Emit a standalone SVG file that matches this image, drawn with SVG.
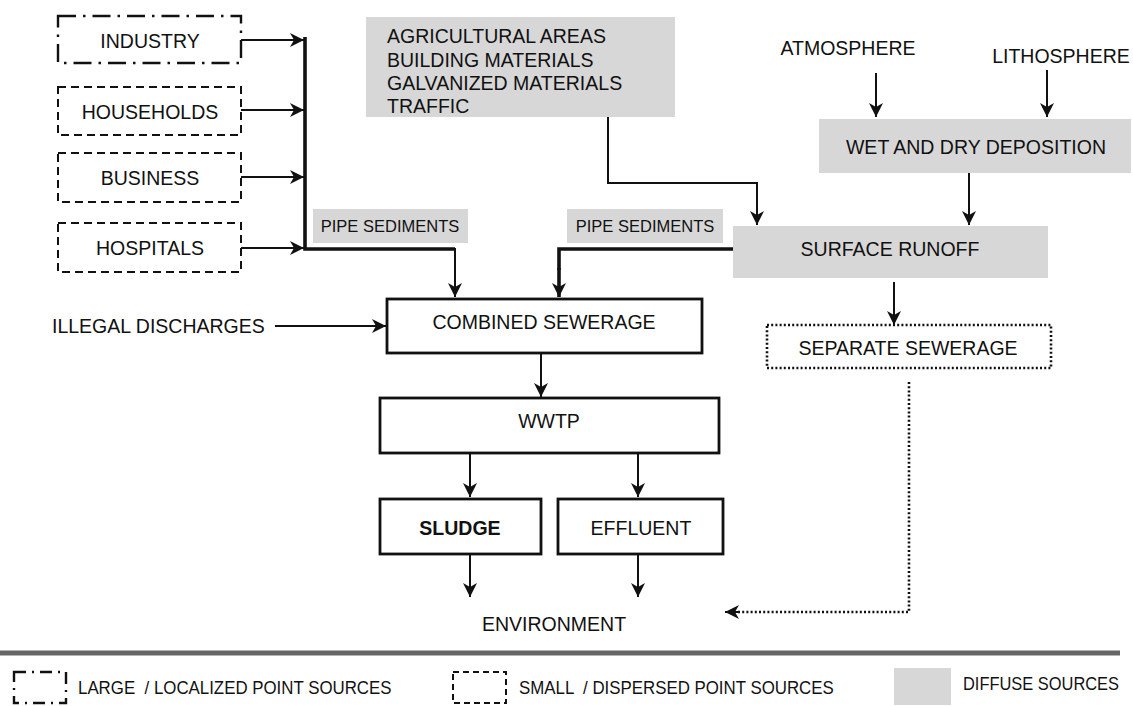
<svg xmlns="http://www.w3.org/2000/svg" width="1133" height="706" viewBox="0 0 1133 706">
<style>
text{font-family:"Liberation Sans",Arial,sans-serif;fill:#111;}
.t{font-size:19.5px;}
.c{text-anchor:middle;}
.s{font-size:16.5px;}
.lg{font-size:19px;}
.box{fill:#fff;stroke:#111;stroke-width:2.8;}
.dd{fill:#fff;stroke:#111;stroke-width:2.4;stroke-dasharray:18 7 2.5 7;}
.da{fill:#fff;stroke:#111;stroke-width:2;stroke-dasharray:8 5;}
.dot{fill:#fff;stroke:#111;stroke-width:2.6;stroke-dasharray:2 2.2;}
.gray{fill:#d7d7d7;}
.ln{fill:none;stroke:#111;stroke-width:2;}
.thick{fill:none;stroke:#111;stroke-width:3.6;}
.dl{fill:none;stroke:#111;stroke-width:2.6;stroke-dasharray:2 2.2;}
</style>
<defs>
<marker id="ah" markerUnits="userSpaceOnUse" markerWidth="14" markerHeight="14" refX="14" refY="7" orient="auto">
<path d="M0,0 L14,7 L0,14 L4,7 Z" fill="#111"/>
</marker>
</defs>

<g id="industry"><rect class="dd" x="58" y="16" width="183" height="47"/><text class="t c" x="150" y="48">INDUSTRY</text></g>
<g id="households"><rect class="da" x="58" y="87" width="183" height="48"/><text class="t c" x="150" y="119">HOUSEHOLDS</text></g>
<g id="business"><rect class="da" x="58" y="153" width="183" height="49"/><text class="t c" x="150" y="185">BUSINESS</text></g>
<g id="hospitals"><rect class="da" x="58" y="223" width="183" height="49"/><text class="t c" x="150" y="255">HOSPITALS</text></g>

<g id="diffuse-list"><rect class="gray" x="366" y="17" width="309" height="100"/>
<text class="t" x="387" y="43">AGRICULTURAL AREAS</text>
<text class="t" x="387" y="67">BUILDING MATERIALS</text>
<text class="t" x="387" y="90">GALVANIZED MATERIALS</text>
<text class="t" x="387" y="113">TRAFFIC</text></g>

<g id="atmosphere"><text class="t c" x="848" y="55">ATMOSPHERE</text></g>
<g id="lithosphere"><text class="t c" x="1061" y="63">LITHOSPHERE</text></g>
<g id="deposition"><rect class="gray" x="819" y="119" width="312" height="54"/><text class="t c" x="976" y="154">WET AND DRY DEPOSITION</text></g>
<g id="runoff"><rect class="gray" x="733" y="226" width="315" height="52"/><text class="t c" x="890" y="256">SURFACE RUNOFF</text></g>

<g id="pipe1"><rect class="gray" x="313" y="209" width="155" height="34"/><text class="s c" x="390" y="232">PIPE SEDIMENTS</text></g>
<g id="pipe2"><rect class="gray" x="567" y="209" width="156" height="34"/><text class="s c" x="645" y="232">PIPE SEDIMENTS</text></g>

<g id="illegal"><text class="t" x="52" y="333">ILLEGAL DISCHARGES</text></g>
<g id="combined"><rect class="box" x="387" y="299" width="315" height="54"/><text class="t c" x="544" y="329">COMBINED SEWERAGE</text></g>
<g id="separate"><rect class="dot" x="767" y="325" width="284" height="43"/><text class="t c" x="908" y="355">SEPARATE SEWERAGE</text></g>
<g id="wwtp"><rect class="box" x="380" y="398" width="339" height="55"/><text class="t c" x="549" y="428">WWTP</text></g>
<g id="sludge"><rect class="box" x="380" y="499" width="161" height="55"/><text class="t c" x="460" y="535" font-weight="bold">SLUDGE</text></g>
<g id="effluent"><rect class="box" x="558" y="499" width="165" height="55"/><text class="t c" x="641" y="535">EFFLUENT</text></g>
<g id="environment"><text class="t c" x="554" y="631">ENVIRONMENT</text></g>

<g id="connectors">
<line class="ln" x1="241" y1="40" x2="304" y2="40" marker-end="url(#ah)"/>
<line class="ln" x1="241" y1="110" x2="304" y2="110" marker-end="url(#ah)"/>
<line class="ln" x1="241" y1="177" x2="304" y2="177" marker-end="url(#ah)"/>
<line class="ln" x1="241" y1="248" x2="304" y2="248" marker-end="url(#ah)"/>
<polyline class="thick" points="305,37 305,249 455,249"/>
<line class="ln" x1="455" y1="248" x2="455" y2="297" marker-end="url(#ah)"/>
<polyline class="thick" points="733,249 559,249 559,270"/>
<line class="thick" x1="559" y1="268" x2="559" y2="297" marker-end="url(#ah)"/>
<polyline class="ln" points="608,117 608,183 757,183 757,225" marker-end="url(#ah)"/>
<line class="ln" x1="876" y1="73" x2="876" y2="117" marker-end="url(#ah)"/>
<line class="ln" x1="1047" y1="70" x2="1047" y2="117" marker-end="url(#ah)"/>
<line class="ln" x1="969" y1="173" x2="969" y2="225" marker-end="url(#ah)"/>
<line class="ln" x1="894" y1="282" x2="894" y2="325" marker-end="url(#ah)"/>
<line class="ln" x1="275" y1="326" x2="386" y2="326" marker-end="url(#ah)"/>
<line class="ln" x1="541" y1="353" x2="541" y2="397" marker-end="url(#ah)"/>
<line class="ln" x1="470" y1="453" x2="470" y2="497" marker-end="url(#ah)"/>
<line class="ln" x1="638" y1="453" x2="638" y2="497" marker-end="url(#ah)"/>
<line class="ln" x1="470" y1="554" x2="470" y2="597" marker-end="url(#ah)"/>
<line class="ln" x1="638" y1="554" x2="638" y2="597" marker-end="url(#ah)"/>
<polyline class="dl" points="909,382 909,612 738,612"/>
<line class="ln" x1="740" y1="612" x2="725" y2="612" marker-end="url(#ah)"/>
</g>

<g id="legend">
<line x1="0" y1="653" x2="1120" y2="653" stroke="#666" stroke-width="5"/>
<rect class="dd" x="14" y="672" width="52" height="31" style="stroke-dasharray:12 6 2 6"/>
<text class="lg" transform="translate(78,694) scale(0.888,1)" xml:space="preserve">LARGE  / LOCALIZED POINT SOURCES</text>
<rect class="da" x="453" y="672" width="53" height="31" style="stroke-dasharray:6 4"/>
<text class="lg" transform="translate(519,694) scale(0.888,1)" xml:space="preserve">SMALL  / DISPERSED POINT SOURCES</text>
<rect class="gray" x="894" y="668" width="57" height="37"/>
<text class="lg" transform="translate(963,690) scale(0.865,1)">DIFFUSE SOURCES</text>
</g>
</svg>
